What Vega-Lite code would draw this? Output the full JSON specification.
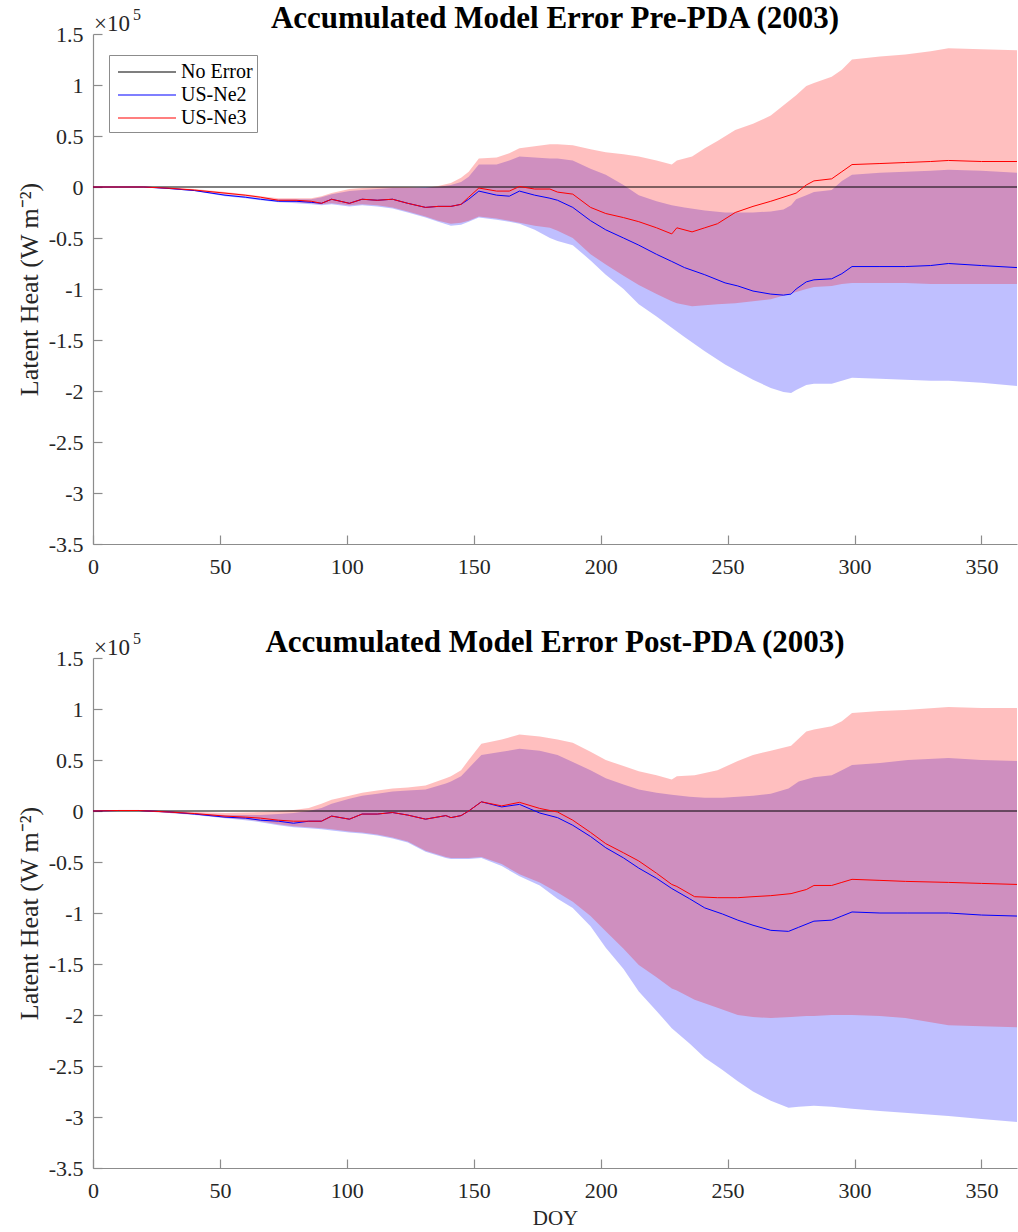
{
  "$schema": "https://vega.github.io/schema/vega-lite/v6.json",
  "background": "white",
  "padding": {"left": 16, "top": 3, "right": 0, "bottom": 0},
  "spacing": 114,
  "bounds": "flush",
  "config": {
    "font": "Liberation Serif",
    "view": {"stroke": null},
    "axis": {
      "labelFont": "Liberation Serif", "labelFontSize": 22, "labelColor": "#262626",
      "titleFont": "Liberation Serif", "titleFontSize": 26, "titleFontWeight": "normal", "titleColor": "#262626",
      "domainColor": "#8c8c8c", "tickColor": "#8c8c8c", "domainWidth": 1.2, "tickWidth": 1.2,
      "grid": false, "tickSize": -9
    },
    "title": {"font": "Liberation Serif", "fontSize": 31, "fontWeight": "bold", "color": "#000000", "offset": 2, "dy": 30, "anchor": "middle", "frame": "group"}
  },
  "datasets": {
    "pre": [
      {"s":"No Error","d":0,"m":0},{"s":"No Error","d":364,"m":0},
      {"s":"US-Ne2","d":0,"m":0,"lo":0,"hi":0},
      {"s":"US-Ne2","d":10,"m":0,"lo":0,"hi":0},
      {"s":"US-Ne2","d":20,"m":0,"lo":0,"hi":0},
      {"s":"US-Ne2","d":30,"m":-0.015,"lo":-0.02,"hi":-0.01},
      {"s":"US-Ne2","d":40,"m":-0.035,"lo":-0.04,"hi":-0.03},
      {"s":"US-Ne2","d":52,"m":-0.08,"lo":-0.09,"hi":-0.07},
      {"s":"US-Ne2","d":60,"m":-0.1,"lo":-0.11,"hi":-0.09},
      {"s":"US-Ne2","d":66,"m":-0.12,"lo":-0.13,"hi":-0.11},
      {"s":"US-Ne2","d":73,"m":-0.14,"lo":-0.15,"hi":-0.12},
      {"s":"US-Ne2","d":80,"m":-0.14,"lo":-0.16,"hi":-0.12},
      {"s":"US-Ne2","d":86,"m":-0.15,"lo":-0.17,"hi":-0.12},
      {"s":"US-Ne2","d":90,"m":-0.16,"lo":-0.18,"hi":-0.1},
      {"s":"US-Ne2","d":94,"m":-0.12,"lo":-0.17,"hi":-0.07},
      {"s":"US-Ne2","d":101,"m":-0.16,"lo":-0.19,"hi":-0.04},
      {"s":"US-Ne2","d":106,"m":-0.12,"lo":-0.18,"hi":-0.03},
      {"s":"US-Ne2","d":112,"m":-0.13,"lo":-0.19,"hi":-0.02},
      {"s":"US-Ne2","d":118,"m":-0.12,"lo":-0.21,"hi":-0.01},
      {"s":"US-Ne2","d":124,"m":-0.16,"lo":-0.25,"hi":-0.01},
      {"s":"US-Ne2","d":131,"m":-0.2,"lo":-0.3,"hi":0},
      {"s":"US-Ne2","d":136,"m":-0.19,"lo":-0.34,"hi":0},
      {"s":"US-Ne2","d":141,"m":-0.19,"lo":-0.38,"hi":0.02},
      {"s":"US-Ne2","d":145,"m":-0.17,"lo":-0.37,"hi":0.05},
      {"s":"US-Ne2","d":148,"m":-0.12,"lo":-0.34,"hi":0.1},
      {"s":"US-Ne2","d":152,"m":-0.04,"lo":-0.3,"hi":0.22},
      {"s":"US-Ne2","d":159,"m":-0.08,"lo":-0.32,"hi":0.22},
      {"s":"US-Ne2","d":164,"m":-0.09,"lo":-0.34,"hi":0.26},
      {"s":"US-Ne2","d":168,"m":-0.04,"lo":-0.36,"hi":0.3},
      {"s":"US-Ne2","d":174,"m":-0.08,"lo":-0.42,"hi":0.29},
      {"s":"US-Ne2","d":180,"m":-0.11,"lo":-0.5,"hi":0.28},
      {"s":"US-Ne2","d":183,"m":-0.13,"lo":-0.53,"hi":0.28},
      {"s":"US-Ne2","d":189,"m":-0.2,"lo":-0.57,"hi":0.26},
      {"s":"US-Ne2","d":196,"m":-0.33,"lo":-0.72,"hi":0.18},
      {"s":"US-Ne2","d":202,"m":-0.42,"lo":-0.86,"hi":0.12},
      {"s":"US-Ne2","d":209,"m":-0.5,"lo":-1.0,"hi":0.02},
      {"s":"US-Ne2","d":215,"m":-0.57,"lo":-1.15,"hi":-0.08},
      {"s":"US-Ne2","d":222,"m":-0.66,"lo":-1.27,"hi":-0.14},
      {"s":"US-Ne2","d":228,"m":-0.73,"lo":-1.38,"hi":-0.18},
      {"s":"US-Ne2","d":233,"m":-0.79,"lo":-1.47,"hi":-0.2},
      {"s":"US-Ne2","d":241,"m":-0.86,"lo":-1.61,"hi":-0.23},
      {"s":"US-Ne2","d":249,"m":-0.94,"lo":-1.74,"hi":-0.25},
      {"s":"US-Ne2","d":254,"m":-0.97,"lo":-1.81,"hi":-0.25},
      {"s":"US-Ne2","d":260,"m":-1.02,"lo":-1.89,"hi":-0.25},
      {"s":"US-Ne2","d":267,"m":-1.05,"lo":-1.97,"hi":-0.24},
      {"s":"US-Ne2","d":272,"m":-1.06,"lo":-2.01,"hi":-0.22},
      {"s":"US-Ne2","d":275,"m":-1.05,"lo":-2.02,"hi":-0.18},
      {"s":"US-Ne2","d":277,"m":-1.0,"lo":-1.99,"hi":-0.12},
      {"s":"US-Ne2","d":281,"m":-0.93,"lo":-1.94,"hi":-0.08},
      {"s":"US-Ne2","d":284,"m":-0.91,"lo":-1.93,"hi":-0.05},
      {"s":"US-Ne2","d":291,"m":-0.9,"lo":-1.93,"hi":-0.03},
      {"s":"US-Ne2","d":295,"m":-0.85,"lo":-1.9,"hi":0.06},
      {"s":"US-Ne2","d":299,"m":-0.78,"lo":-1.87,"hi":0.12},
      {"s":"US-Ne2","d":310,"m":-0.78,"lo":-1.88,"hi":0.14},
      {"s":"US-Ne2","d":320,"m":-0.78,"lo":-1.89,"hi":0.15},
      {"s":"US-Ne2","d":330,"m":-0.77,"lo":-1.9,"hi":0.16},
      {"s":"US-Ne2","d":337,"m":-0.75,"lo":-1.9,"hi":0.17},
      {"s":"US-Ne2","d":350,"m":-0.77,"lo":-1.92,"hi":0.16},
      {"s":"US-Ne2","d":364,"m":-0.79,"lo":-1.95,"hi":0.14},
      {"s":"US-Ne3","d":0,"m":0,"lo":0,"hi":0},
      {"s":"US-Ne3","d":10,"m":0,"lo":0,"hi":0},
      {"s":"US-Ne3","d":20,"m":0,"lo":0,"hi":0},
      {"s":"US-Ne3","d":30,"m":-0.012,"lo":-0.02,"hi":-0.005},
      {"s":"US-Ne3","d":40,"m":-0.03,"lo":-0.04,"hi":-0.02},
      {"s":"US-Ne3","d":52,"m":-0.06,"lo":-0.07,"hi":-0.05},
      {"s":"US-Ne3","d":60,"m":-0.08,"lo":-0.09,"hi":-0.07},
      {"s":"US-Ne3","d":66,"m":-0.1,"lo":-0.11,"hi":-0.09},
      {"s":"US-Ne3","d":73,"m":-0.13,"lo":-0.14,"hi":-0.11},
      {"s":"US-Ne3","d":80,"m":-0.13,"lo":-0.15,"hi":-0.11},
      {"s":"US-Ne3","d":86,"m":-0.14,"lo":-0.16,"hi":-0.11},
      {"s":"US-Ne3","d":90,"m":-0.16,"lo":-0.17,"hi":-0.09},
      {"s":"US-Ne3","d":94,"m":-0.12,"lo":-0.16,"hi":-0.06},
      {"s":"US-Ne3","d":101,"m":-0.16,"lo":-0.18,"hi":-0.02},
      {"s":"US-Ne3","d":106,"m":-0.12,"lo":-0.17,"hi":-0.01},
      {"s":"US-Ne3","d":112,"m":-0.13,"lo":-0.18,"hi":0},
      {"s":"US-Ne3","d":118,"m":-0.12,"lo":-0.2,"hi":0},
      {"s":"US-Ne3","d":124,"m":-0.16,"lo":-0.24,"hi":0},
      {"s":"US-Ne3","d":131,"m":-0.2,"lo":-0.29,"hi":-0.01},
      {"s":"US-Ne3","d":136,"m":-0.19,"lo":-0.33,"hi":0.01},
      {"s":"US-Ne3","d":141,"m":-0.19,"lo":-0.36,"hi":0.04},
      {"s":"US-Ne3","d":145,"m":-0.17,"lo":-0.35,"hi":0.09},
      {"s":"US-Ne3","d":148,"m":-0.1,"lo":-0.33,"hi":0.15},
      {"s":"US-Ne3","d":152,"m":-0.01,"lo":-0.29,"hi":0.28},
      {"s":"US-Ne3","d":159,"m":-0.04,"lo":-0.31,"hi":0.29},
      {"s":"US-Ne3","d":164,"m":-0.04,"lo":-0.33,"hi":0.33},
      {"s":"US-Ne3","d":168,"m":0.005,"lo":-0.35,"hi":0.38},
      {"s":"US-Ne3","d":174,"m":-0.02,"lo":-0.38,"hi":0.4},
      {"s":"US-Ne3","d":180,"m":-0.02,"lo":-0.4,"hi":0.42},
      {"s":"US-Ne3","d":183,"m":-0.05,"lo":-0.43,"hi":0.42},
      {"s":"US-Ne3","d":189,"m":-0.07,"lo":-0.5,"hi":0.41},
      {"s":"US-Ne3","d":196,"m":-0.2,"lo":-0.66,"hi":0.37},
      {"s":"US-Ne3","d":202,"m":-0.26,"lo":-0.76,"hi":0.34},
      {"s":"US-Ne3","d":209,"m":-0.3,"lo":-0.87,"hi":0.32},
      {"s":"US-Ne3","d":215,"m":-0.34,"lo":-0.96,"hi":0.3},
      {"s":"US-Ne3","d":222,"m":-0.4,"lo":-1.05,"hi":0.26},
      {"s":"US-Ne3","d":228,"m":-0.46,"lo":-1.12,"hi":0.22},
      {"s":"US-Ne3","d":230,"m":-0.4,"lo":-1.14,"hi":0.26},
      {"s":"US-Ne3","d":236,"m":-0.44,"lo":-1.17,"hi":0.3},
      {"s":"US-Ne3","d":241,"m":-0.4,"lo":-1.16,"hi":0.38},
      {"s":"US-Ne3","d":246,"m":-0.36,"lo":-1.15,"hi":0.45},
      {"s":"US-Ne3","d":253,"m":-0.25,"lo":-1.14,"hi":0.56},
      {"s":"US-Ne3","d":260,"m":-0.19,"lo":-1.12,"hi":0.62},
      {"s":"US-Ne3","d":267,"m":-0.14,"lo":-1.1,"hi":0.7},
      {"s":"US-Ne3","d":277,"m":-0.06,"lo":-1.03,"hi":0.9},
      {"s":"US-Ne3","d":281,"m":0.02,"lo":-1.0,"hi":0.99},
      {"s":"US-Ne3","d":284,"m":0.06,"lo":-0.98,"hi":1.02},
      {"s":"US-Ne3","d":291,"m":0.08,"lo":-0.97,"hi":1.08},
      {"s":"US-Ne3","d":295,"m":0.15,"lo":-0.95,"hi":1.15},
      {"s":"US-Ne3","d":299,"m":0.22,"lo":-0.94,"hi":1.25},
      {"s":"US-Ne3","d":310,"m":0.23,"lo":-0.94,"hi":1.28},
      {"s":"US-Ne3","d":320,"m":0.24,"lo":-0.94,"hi":1.3},
      {"s":"US-Ne3","d":330,"m":0.25,"lo":-0.95,"hi":1.33},
      {"s":"US-Ne3","d":337,"m":0.26,"lo":-0.95,"hi":1.36},
      {"s":"US-Ne3","d":350,"m":0.25,"lo":-0.95,"hi":1.35},
      {"s":"US-Ne3","d":364,"m":0.25,"lo":-0.95,"hi":1.34}
    ],
    "post": [
      {"s":"No Error","d":0,"m":0},{"s":"No Error","d":364,"m":0},
      {"s":"US-Ne2","d":0,"m":0,"lo":0,"hi":0},
      {"s":"US-Ne2","d":10,"m":0.005,"lo":0,"hi":0.01},
      {"s":"US-Ne2","d":18,"m":0.005,"lo":0,"hi":0.01},
      {"s":"US-Ne2","d":30,"m":-0.01,"lo":-0.02,"hi":0},
      {"s":"US-Ne2","d":40,"m":-0.03,"lo":-0.04,"hi":-0.02},
      {"s":"US-Ne2","d":52,"m":-0.06,"lo":-0.07,"hi":-0.04},
      {"s":"US-Ne2","d":60,"m":-0.07,"lo":-0.09,"hi":-0.04},
      {"s":"US-Ne2","d":66,"m":-0.09,"lo":-0.11,"hi":-0.04},
      {"s":"US-Ne2","d":73,"m":-0.1,"lo":-0.14,"hi":-0.03},
      {"s":"US-Ne2","d":79,"m":-0.12,"lo":-0.16,"hi":-0.02},
      {"s":"US-Ne2","d":85,"m":-0.1,"lo":-0.17,"hi":0},
      {"s":"US-Ne2","d":90,"m":-0.1,"lo":-0.18,"hi":0.03},
      {"s":"US-Ne2","d":94,"m":-0.05,"lo":-0.19,"hi":0.07},
      {"s":"US-Ne2","d":101,"m":-0.08,"lo":-0.21,"hi":0.12},
      {"s":"US-Ne2","d":106,"m":-0.03,"lo":-0.22,"hi":0.15},
      {"s":"US-Ne2","d":112,"m":-0.03,"lo":-0.24,"hi":0.17},
      {"s":"US-Ne2","d":118,"m":-0.015,"lo":-0.27,"hi":0.19},
      {"s":"US-Ne2","d":124,"m":-0.04,"lo":-0.31,"hi":0.2},
      {"s":"US-Ne2","d":131,"m":-0.08,"lo":-0.4,"hi":0.21},
      {"s":"US-Ne2","d":139,"m":-0.045,"lo":-0.46,"hi":0.27},
      {"s":"US-Ne2","d":141,"m":-0.065,"lo":-0.47,"hi":0.29},
      {"s":"US-Ne2","d":145,"m":-0.045,"lo":-0.47,"hi":0.34},
      {"s":"US-Ne2","d":148,"m":0,"lo":-0.47,"hi":0.42},
      {"s":"US-Ne2","d":153,"m":0.09,"lo":-0.46,"hi":0.55},
      {"s":"US-Ne2","d":161,"m":0.04,"lo":-0.54,"hi":0.58},
      {"s":"US-Ne2","d":168,"m":0.065,"lo":-0.64,"hi":0.61},
      {"s":"US-Ne2","d":176,"m":-0.02,"lo":-0.73,"hi":0.59},
      {"s":"US-Ne2","d":183,"m":-0.065,"lo":-0.86,"hi":0.55},
      {"s":"US-Ne2","d":189,"m":-0.14,"lo":-0.95,"hi":0.48},
      {"s":"US-Ne2","d":196,"m":-0.25,"lo":-1.13,"hi":0.4},
      {"s":"US-Ne2","d":202,"m":-0.36,"lo":-1.34,"hi":0.32},
      {"s":"US-Ne2","d":209,"m":-0.46,"lo":-1.55,"hi":0.26},
      {"s":"US-Ne2","d":215,"m":-0.56,"lo":-1.77,"hi":0.21},
      {"s":"US-Ne2","d":222,"m":-0.66,"lo":-1.96,"hi":0.18},
      {"s":"US-Ne2","d":228,"m":-0.76,"lo":-2.13,"hi":0.16},
      {"s":"US-Ne2","d":235,"m":-0.86,"lo":-2.28,"hi":0.14},
      {"s":"US-Ne2","d":241,"m":-0.95,"lo":-2.42,"hi":0.13},
      {"s":"US-Ne2","d":248,"m":-1.01,"lo":-2.54,"hi":0.13},
      {"s":"US-Ne2","d":254,"m":-1.07,"lo":-2.65,"hi":0.14},
      {"s":"US-Ne2","d":260,"m":-1.12,"lo":-2.75,"hi":0.15},
      {"s":"US-Ne2","d":267,"m":-1.17,"lo":-2.84,"hi":0.17},
      {"s":"US-Ne2","d":274,"m":-1.18,"lo":-2.91,"hi":0.22},
      {"s":"US-Ne2","d":278,"m":-1.14,"lo":-2.9,"hi":0.29},
      {"s":"US-Ne2","d":284,"m":-1.08,"lo":-2.89,"hi":0.33},
      {"s":"US-Ne2","d":291,"m":-1.07,"lo":-2.9,"hi":0.35},
      {"s":"US-Ne2","d":295,"m":-1.03,"lo":-2.91,"hi":0.4},
      {"s":"US-Ne2","d":299,"m":-0.99,"lo":-2.92,"hi":0.45},
      {"s":"US-Ne2","d":310,"m":-1.0,"lo":-2.94,"hi":0.47},
      {"s":"US-Ne2","d":321,"m":-1.0,"lo":-2.96,"hi":0.5},
      {"s":"US-Ne2","d":337,"m":-1.0,"lo":-2.99,"hi":0.52},
      {"s":"US-Ne2","d":350,"m":-1.02,"lo":-3.02,"hi":0.5},
      {"s":"US-Ne2","d":364,"m":-1.03,"lo":-3.05,"hi":0.49},
      {"s":"US-Ne3","d":0,"m":0,"lo":0,"hi":0},
      {"s":"US-Ne3","d":10,"m":0.005,"lo":0,"hi":0.01},
      {"s":"US-Ne3","d":18,"m":0.005,"lo":0,"hi":0.01},
      {"s":"US-Ne3","d":30,"m":-0.01,"lo":-0.02,"hi":0},
      {"s":"US-Ne3","d":40,"m":-0.025,"lo":-0.035,"hi":-0.01},
      {"s":"US-Ne3","d":52,"m":-0.05,"lo":-0.065,"hi":-0.02},
      {"s":"US-Ne3","d":60,"m":-0.06,"lo":-0.08,"hi":-0.015},
      {"s":"US-Ne3","d":66,"m":-0.07,"lo":-0.1,"hi":-0.01},
      {"s":"US-Ne3","d":73,"m":-0.09,"lo":-0.13,"hi":0},
      {"s":"US-Ne3","d":79,"m":-0.1,"lo":-0.15,"hi":0.01},
      {"s":"US-Ne3","d":85,"m":-0.1,"lo":-0.16,"hi":0.03},
      {"s":"US-Ne3","d":90,"m":-0.1,"lo":-0.17,"hi":0.07},
      {"s":"US-Ne3","d":94,"m":-0.05,"lo":-0.18,"hi":0.11},
      {"s":"US-Ne3","d":101,"m":-0.08,"lo":-0.2,"hi":0.15},
      {"s":"US-Ne3","d":106,"m":-0.03,"lo":-0.21,"hi":0.18},
      {"s":"US-Ne3","d":112,"m":-0.03,"lo":-0.23,"hi":0.2},
      {"s":"US-Ne3","d":118,"m":-0.015,"lo":-0.26,"hi":0.22},
      {"s":"US-Ne3","d":124,"m":-0.04,"lo":-0.3,"hi":0.23},
      {"s":"US-Ne3","d":131,"m":-0.08,"lo":-0.39,"hi":0.25},
      {"s":"US-Ne3","d":139,"m":-0.045,"lo":-0.45,"hi":0.32},
      {"s":"US-Ne3","d":141,"m":-0.065,"lo":-0.46,"hi":0.34},
      {"s":"US-Ne3","d":145,"m":-0.045,"lo":-0.46,"hi":0.4},
      {"s":"US-Ne3","d":148,"m":0,"lo":-0.46,"hi":0.5},
      {"s":"US-Ne3","d":153,"m":0.09,"lo":-0.45,"hi":0.66},
      {"s":"US-Ne3","d":161,"m":0.05,"lo":-0.52,"hi":0.7},
      {"s":"US-Ne3","d":168,"m":0.085,"lo":-0.62,"hi":0.75},
      {"s":"US-Ne3","d":176,"m":0.025,"lo":-0.7,"hi":0.73},
      {"s":"US-Ne3","d":183,"m":-0.01,"lo":-0.8,"hi":0.7},
      {"s":"US-Ne3","d":189,"m":-0.09,"lo":-0.89,"hi":0.67},
      {"s":"US-Ne3","d":196,"m":-0.21,"lo":-1.03,"hi":0.58},
      {"s":"US-Ne3","d":202,"m":-0.32,"lo":-1.18,"hi":0.5},
      {"s":"US-Ne3","d":209,"m":-0.41,"lo":-1.35,"hi":0.44},
      {"s":"US-Ne3","d":215,"m":-0.49,"lo":-1.51,"hi":0.39},
      {"s":"US-Ne3","d":222,"m":-0.61,"lo":-1.63,"hi":0.35},
      {"s":"US-Ne3","d":228,"m":-0.72,"lo":-1.74,"hi":0.31},
      {"s":"US-Ne3","d":230,"m":-0.74,"lo":-1.76,"hi":0.34},
      {"s":"US-Ne3","d":237,"m":-0.84,"lo":-1.85,"hi":0.35},
      {"s":"US-Ne3","d":246,"m":-0.85,"lo":-1.93,"hi":0.4},
      {"s":"US-Ne3","d":254,"m":-0.85,"lo":-2.0,"hi":0.49},
      {"s":"US-Ne3","d":260,"m":-0.84,"lo":-2.02,"hi":0.55},
      {"s":"US-Ne3","d":267,"m":-0.83,"lo":-2.03,"hi":0.59},
      {"s":"US-Ne3","d":275,"m":-0.81,"lo":-2.02,"hi":0.64},
      {"s":"US-Ne3","d":281,"m":-0.77,"lo":-2.01,"hi":0.78},
      {"s":"US-Ne3","d":284,"m":-0.73,"lo":-2.01,"hi":0.8},
      {"s":"US-Ne3","d":291,"m":-0.73,"lo":-2.0,"hi":0.83},
      {"s":"US-Ne3","d":295,"m":-0.7,"lo":-2.0,"hi":0.88},
      {"s":"US-Ne3","d":299,"m":-0.67,"lo":-2.0,"hi":0.96},
      {"s":"US-Ne3","d":310,"m":-0.68,"lo":-2.01,"hi":0.98},
      {"s":"US-Ne3","d":320,"m":-0.69,"lo":-2.03,"hi":0.99},
      {"s":"US-Ne3","d":337,"m":-0.7,"lo":-2.1,"hi":1.02},
      {"s":"US-Ne3","d":350,"m":-0.71,"lo":-2.11,"hi":1.01},
      {"s":"US-Ne3","d":364,"m":-0.72,"lo":-2.12,"hi":1.01}
    ],
    "mult": [{"t": "×10", "d": 0, "m": 1.5}],
    "exp": [{"t": "5", "d": 0, "m": 1.5}]
  },
  "vconcat": [
    {
      "width": 924, "height": 510,
      "title": {"text": "Accumulated Model Error Pre-PDA (2003)"},
      "layer": [
        {
          "data": {"name": "pre"},
          "transform": [{"filter": "datum.s === 'US-Ne2'"}],
          "mark": {"type": "area", "fill": "#0000ff", "fillOpacity": 0.25},
          "encoding": {
            "x": {"field": "d", "type": "quantitative", "scale": {"domain": [0, 364], "nice": false}, "axis": {"values": [0,50,100,150,200,250,300,350], "labelPadding": 21, "labelFlush": false, "title": null}},
            "y": {"field": "lo", "type": "quantitative", "scale": {"domain": [-3.5, 1.5], "nice": false}, "axis": {"values": [-3.5,-3,-2.5,-2,-1.5,-1,-0.5,0,0.5,1,1.5], "labelExpr": "datum.value + ''", "labelPadding": 19, "title": "Latent Heat (W m⁻²)", "titlePadding": 6}},
            "y2": {"field": "hi"}
          }
        },
        {
          "data": {"name": "pre"},
          "transform": [{"filter": "datum.s === 'US-Ne3'"}],
          "mark": {"type": "area", "fill": "#ff0000", "fillOpacity": 0.25},
          "encoding": {
            "x": {"field": "d", "type": "quantitative"},
            "y": {"field": "lo", "type": "quantitative"},
            "y2": {"field": "hi"}
          }
        },
        {
          "data": {"name": "pre"},
          "mark": {"type": "line", "strokeWidth": 1},
          "encoding": {
            "x": {"field": "d", "type": "quantitative"},
            "y": {"field": "m", "type": "quantitative"},
            "color": {"field": "s", "type": "nominal", "scale": {"domain": ["No Error", "US-Ne2", "US-Ne3"], "range": ["#000000", "#0000ff", "#ff0000"]},
              "legend": {"title": null, "orient": "none", "legendX": 16, "legendY": 21, "fillColor": "white", "strokeColor": "#8c8c8c", "padding": 4, "symbolType": "M-2.42,0L2.42,0", "symbolSize": 576, "symbolOffset": 21, "symbolStrokeWidth": 1.2, "labelFont": "Liberation Serif", "labelFontSize": 20, "labelColor": "#000000", "labelOffset": 21, "rowPadding": 0}}
          }
        },
        {
          "data": {"name": "mult"},
          "mark": {"type": "text", "align": "left", "baseline": "alphabetic", "dy": -3, "dx": 1, "fontSize": 23, "color": "#262626"},
          "encoding": {"x": {"field": "d", "type": "quantitative"}, "y": {"field": "m", "type": "quantitative"}, "text": {"field": "t"}}
        },
        {
          "data": {"name": "exp"},
          "mark": {"type": "text", "align": "left", "baseline": "alphabetic", "dy": -14, "dx": 40, "fontSize": 16, "color": "#262626"},
          "encoding": {"x": {"field": "d", "type": "quantitative"}, "y": {"field": "m", "type": "quantitative"}, "text": {"field": "t"}}
        }
      ]
    },
    {
      "width": 924, "height": 510,
      "title": {"text": "Accumulated Model Error Post-PDA (2003)"},
      "layer": [
        {
          "data": {"name": "post"},
          "transform": [{"filter": "datum.s === 'US-Ne2'"}],
          "mark": {"type": "area", "fill": "#0000ff", "fillOpacity": 0.25},
          "encoding": {
            "x": {"field": "d", "type": "quantitative", "scale": {"domain": [0, 364], "nice": false}, "axis": {"values": [0,50,100,150,200,250,300,350], "labelPadding": 21, "labelFlush": false, "title": "DOY", "titleFontSize": 21, "titlePadding": 6}},
            "y": {"field": "lo", "type": "quantitative", "scale": {"domain": [-3.5, 1.5], "nice": false}, "axis": {"values": [-3.5,-3,-2.5,-2,-1.5,-1,-0.5,0,0.5,1,1.5], "labelExpr": "datum.value + ''", "labelPadding": 19, "title": "Latent Heat (W m⁻²)", "titlePadding": 6}},
            "y2": {"field": "hi"}
          }
        },
        {
          "data": {"name": "post"},
          "transform": [{"filter": "datum.s === 'US-Ne3'"}],
          "mark": {"type": "area", "fill": "#ff0000", "fillOpacity": 0.25},
          "encoding": {
            "x": {"field": "d", "type": "quantitative"},
            "y": {"field": "lo", "type": "quantitative"},
            "y2": {"field": "hi"}
          }
        },
        {
          "data": {"name": "post"},
          "mark": {"type": "line", "strokeWidth": 1},
          "encoding": {
            "x": {"field": "d", "type": "quantitative"},
            "y": {"field": "m", "type": "quantitative"},
            "color": {"field": "s", "type": "nominal", "scale": {"domain": ["No Error", "US-Ne2", "US-Ne3"], "range": ["#000000", "#0000ff", "#ff0000"]}, "legend": null}
          }
        },
        {
          "data": {"name": "mult"},
          "mark": {"type": "text", "align": "left", "baseline": "alphabetic", "dy": -3, "dx": 1, "fontSize": 23, "color": "#262626"},
          "encoding": {"x": {"field": "d", "type": "quantitative"}, "y": {"field": "m", "type": "quantitative"}, "text": {"field": "t"}}
        },
        {
          "data": {"name": "exp"},
          "mark": {"type": "text", "align": "left", "baseline": "alphabetic", "dy": -14, "dx": 40, "fontSize": 16, "color": "#262626"},
          "encoding": {"x": {"field": "d", "type": "quantitative"}, "y": {"field": "m", "type": "quantitative"}, "text": {"field": "t"}}
        }
      ]
    }
  ],
  "resolve": {"legend": {"color": "independent"}, "scale": {"color": "independent"}}
}
